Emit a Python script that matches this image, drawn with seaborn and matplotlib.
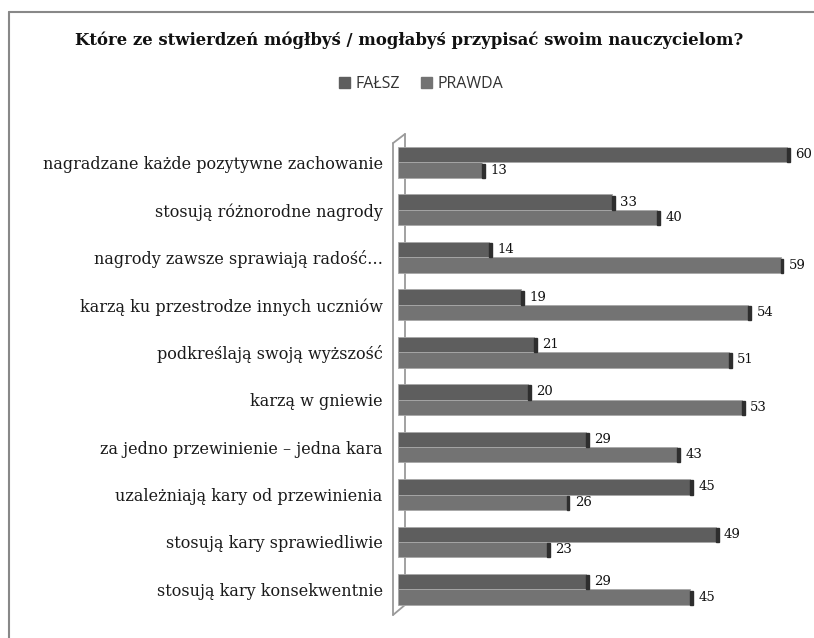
import matplotlib
matplotlib.use("Agg")
import matplotlib.pyplot as plt
import seaborn as sns
import pandas as pd
from matplotlib.patches import Rectangle
from matplotlib.lines import Line2D

categories = [
    "nagradzane każde pozytywne zachowanie",
    "stosują różnorodne nagrody",
    "nagrody zawsze sprawiają radość…",
    "karzą ku przestrodze innych uczniów",
    "podkreślają swoją wyższość",
    "karzą w gniewie",
    "za jedno przewinienie – jedna kara",
    "uzależniają kary od przewinienia",
    "stosują kary sprawiedliwie",
    "stosują kary konsekwentnie",
]
falsz = [60, 33, 14, 19, 21, 20, 29, 45, 49, 29]
prawda = [13, 40, 59, 54, 51, 53, 43, 26, 23, 45]
series = ["FAŁSZ", "PRAWDA"]
colors = {"FAŁSZ": "#5e5e5e", "PRAWDA": "#737373"}
title = "Które ze stwierdzeń mógłbyś / mogłabyś przypisać swoim nauczycielom?"

df = pd.DataFrame({
    "kat": categories * 2,
    "val": falsz + prawda,
    "ser": [series[0]] * len(categories) + [series[1]] * len(categories),
})

sns.set_style("white")
fig = plt.figure(figsize=(8.14, 6.38), dpi=100)
W, H = 814, 638
ax = fig.add_axes([398 / W, 23 / H, 402 / W, 481 / H])

sns.barplot(data=df, y="kat", x="val", hue="ser", order=categories,
            hue_order=series, palette=colors, orient="h", width=0.65,
            dodge=True, ax=ax, legend=False, edgecolor="#a8a8a8", linewidth=0.6)

ax.set_xlim(0, 62)
ax.set_ylim(len(categories) - 1 + 0.54, -0.60)
ax.set_xlabel("")
ax.set_ylabel("")
ax.set_xticks([])
for s in ax.spines.values():
    s.set_visible(False)
ax.tick_params(axis="y", length=0, pad=11)
for lab in ax.get_yticklabels():
    lab.set_fontfamily("DejaVu Serif")
    lab.set_fontsize(11.5)
    lab.set_color("#1a1a1a")

# 3D-ish dark side at bar ends
for p in ax.patches:
    x0, y0 = p.get_x(), p.get_y()
    w, h = p.get_width(), p.get_height()
    ax.add_patch(Rectangle((x0 + w, y0 + h * 0.08), 0.45, h * 0.92,
                           color="#2e2e2e", zorder=p.get_zorder(), clip_on=False))

for cont in ax.containers:
    ax.bar_label(cont, padding=6, fontsize=9.5, fontfamily="DejaVu Serif",
                 color="#111111")

# wall (decoration)
wc = "#9a9a9a"
ax.add_line(Line2D([-0.0124, -0.0124], [0.0, 0.981], transform=ax.transAxes,
                   color=wc, lw=1.3, clip_on=False, zorder=0))
ax.add_line(Line2D([-0.0124, 0.0174], [0.981, 1.0], transform=ax.transAxes,
                   color=wc, lw=1.3, clip_on=False, zorder=0))
ax.add_line(Line2D([0.0174, 0.0174], [0.021, 1.0], transform=ax.transAxes,
                   color=wc, lw=1.3, clip_on=False, zorder=0))
ax.add_line(Line2D([-0.0124, 0.0174], [0.0, 0.021], transform=ax.transAxes,
                   color=wc, lw=1.3, clip_on=False, zorder=0))

# outer frame
fig.add_artist(Line2D([9 / W, 9 / W], [0, 1 - 12 / H], color="#888888", lw=1.5))
fig.add_artist(Line2D([9 / W, 1], [1 - 12 / H, 1 - 12 / H], color="#888888", lw=1.5))

fig.text(0.503, 1 - 40 / H, title, ha="center", va="center", fontsize=11.9,
         fontweight="bold", fontfamily="DejaVu Serif", color="#111111")

handles = [Rectangle((0, 0), 1, 1, color=colors[s]) for s in series]
fig.legend(handles, series, loc="center", bbox_to_anchor=(0.517, 1 - 84 / H),
           ncol=2, frameon=False, handlelength=0.7,
           handleheight=0.7, handletextpad=0.35, columnspacing=1.3,
           prop={"family": "Open Sans", "size": 11.5})
for t in fig.legends[0].get_texts():
    t.set_color("#333333")

fig.savefig("out.png", dpi=100)
